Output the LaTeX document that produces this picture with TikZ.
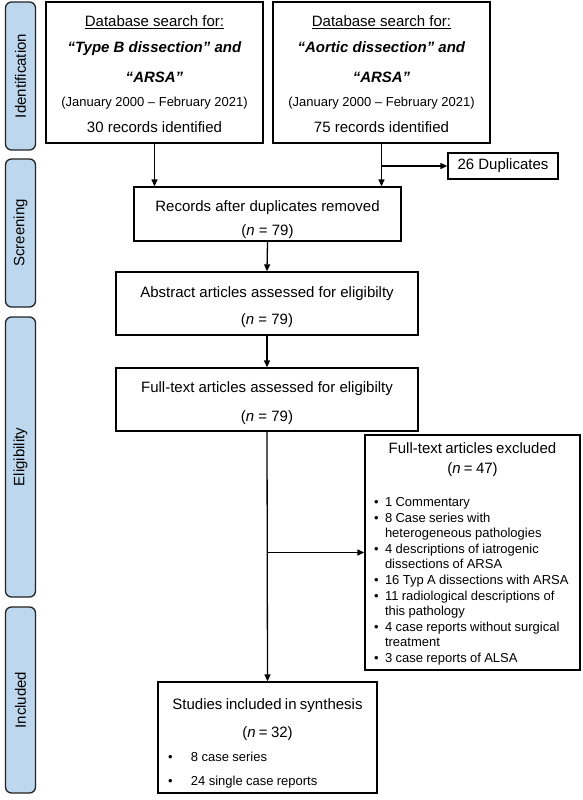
\documentclass[tikz,border=0pt]{standalone}
\usepackage{fontspec}
\setmainfont{Liberation Sans}
\usetikzlibrary{arrows.meta}
\definecolor{sidefill}{RGB}{189,215,238}
\definecolor{sideline}{RGB}{35,35,35}
\newcommand\exitem[1]{\noindent\hangindent=11pt\hangafter=1\makebox[11pt][l]{•}#1\par}
\begin{document}
\begin{tikzpicture}[x=1pt,y=-1pt,
  box/.style={draw=black, line width=1.3pt, inner sep=0pt, fill=white},
  side/.style={draw=sideline, line width=1.3pt, fill=sidefill, rounded corners=6pt, rotate=90,
    minimum height=30pt, inner sep=0pt, font=\fontsize{15}{18}\selectfont},
  arr/.style={line width=1.3pt, -{Triangle[length=7pt,width=6pt]}}]
\useasboundingbox (0,0) rectangle (582,800);

% phase labels
\node[side, minimum width=148pt] (lid) at (20.5,76) {Identification};
\node[side, minimum width=148pt] (lsc) at (20.5,233) {Screening};
\node[side, minimum width=280pt] (lel) at (20.5,457) {Eligibility};
\node[side, minimum width=186pt] (lin) at (20.5,700) {Included};

% search boxes
\node[box, minimum width=217pt, minimum height=141pt, align=center,
      font=\fontsize{15}{24}\selectfont] (s1) at (154.5,72.5)
  {\rule{0pt}{14pt}\underline{Database search for:}\\[2pt]
   \textbf{\textit{“Type B dissection” and}}\\[6pt]
   \textbf{\textit{“ARSA”}}\\
   {\fontsize{13}{13}\selectfont (January 2000 – February 2021)}\\[2pt]
   30 records identified};
\node[box, minimum width=217pt, minimum height=141pt, align=center,
      font=\fontsize{15}{24}\selectfont] (s2) at (381.5,72.5)
  {\rule{0pt}{14pt}\underline{Database search for:}\\[2pt]
   \textbf{\textit{“Aortic dissection” and}}\\[6pt]
   \textbf{\textit{“ARSA”}}\\
   {\fontsize{13}{13}\selectfont (January 2000 – February 2021)}\\[2pt]
   75 records identified};

\node[box, minimum width=110pt, minimum height=26pt, font=\fontsize{15}{18}\selectfont]
  (dup) at (503,166) {26 Duplicates};

\node[box, minimum width=267pt, minimum height=54pt, align=center,
      font=\fontsize{15}{24}\selectfont] (rec) at (267.5,214)
  {\rule{0pt}{22pt}Records after duplicates removed\\(\textit{n} = 79)};
\node[box, minimum width=302pt, minimum height=63pt, align=center,
      font=\fontsize{15}{27}\selectfont] (abs) at (267,303.5)
  {\rule{0pt}{19pt}Abstract articles assessed for eligibilty\\(\textit{n} = 79)};
\node[box, minimum width=302pt, minimum height=63pt, align=center,
      font=\fontsize{15}{29}\selectfont] (full) at (267,399.5)
  {\rule{0pt}{19pt}Full-text articles assessed for eligibilty\\(\textit{n} = 79)};

\node[box, minimum height=235pt, text width=197pt, inner xsep=9pt] (ex) at (472.5,552.5)
  {{\centering\fontsize{15}{20}\selectfont \rule{0pt}{14pt}Full-text articles excluded\\(\textit{n} = 47)\par}
   \vspace{17pt}
   {\raggedright\fontsize{13}{15.6}\selectfont
   \exitem{1 Commentary}
   \exitem{8 Case series with\newline heterogeneous pathologies}
   \exitem{4 descriptions of iatrogenic\newline dissections of ARSA}
   \exitem{16 Typ A dissections with ARSA}
   \exitem{11 radiological descriptions of\newline this pathology}
   \exitem{4 case reports without surgical\newline treatment}
   \exitem{3 case reports of ALSA}}};

\node[box, minimum height=111pt, text width=199pt, inner xsep=10pt] (inc) at (267.5,737.5)
  {{\centering\fontsize{15}{28}\selectfont \rule{0pt}{23pt}Studies included in synthesis\\(\textit{n} = 32)\par}
   {\raggedright\fontsize{13}{24}\selectfont
   \noindent\makebox[23pt][l]{•}8 case series\par
   \noindent\makebox[23pt][l]{•}24 single case reports\par}};

% connectors
\draw[arr] (s1.south) -- (s1.south |- rec.north);
\draw[arr] (s2.south) -- (s2.south |- rec.north);
\draw[arr] (s2.south |- dup.west) -- (dup.west);
\draw[arr] (rec.south) -- (abs.north);
\draw[arr] (abs.south) -- (full.north);
\draw[arr] (full.south) -- (inc.north);
\draw[arr] (full.south |- ex.west) -- (ex.west);
\end{tikzpicture}
\end{document}
